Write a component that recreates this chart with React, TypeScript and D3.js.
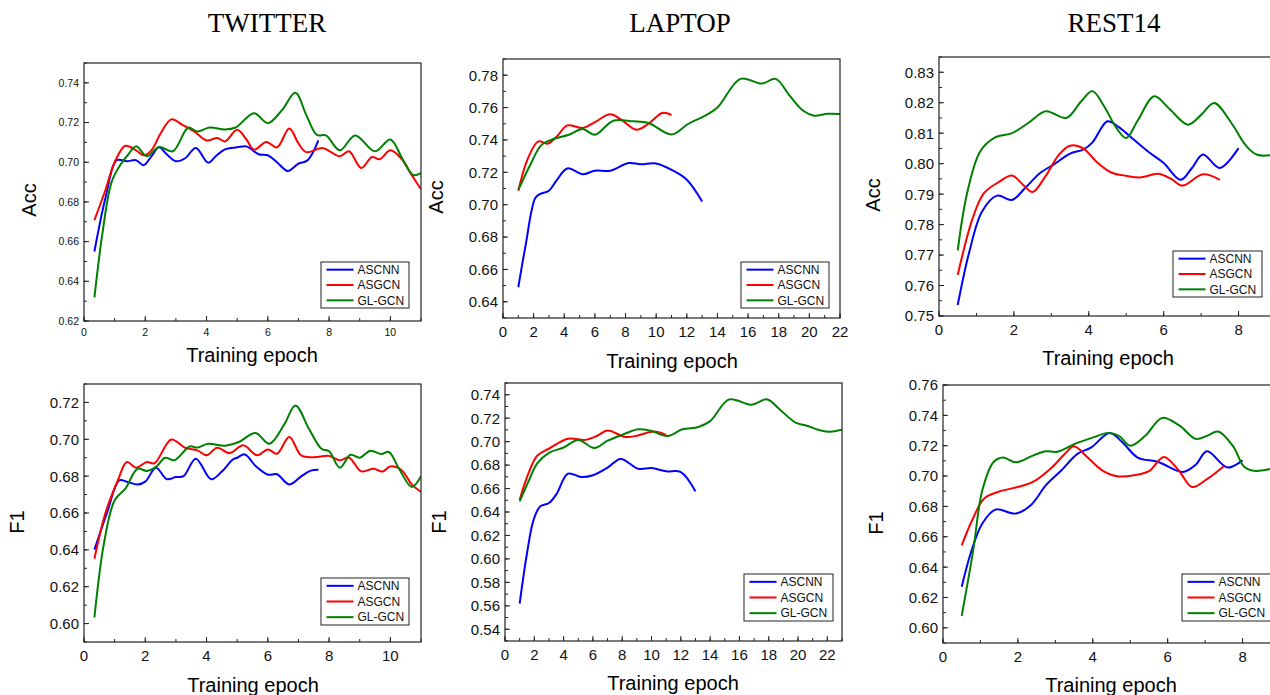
import React from "react";
import * as d3 from "d3";

type Pt = [number, number];

const seriesNames = ["ASCNN", "ASGCN", "GL-GCN"];
const seriesColors = ["#0000ff", "#ff0000", "#008000"];
const datasetTitles = ["TWITTER", "LAPTOP", "REST14"];

// TWITTER - Acc
const twitterAccAscnn: Pt[] = [[0.34,0.655],[0.7,0.682],[1.07,0.701],[1.4,0.7005],[1.7,0.701],[1.95,0.6985],[2.2,0.703],[2.45,0.7075],[2.7,0.704],[3.0,0.7005],[3.3,0.702],[3.65,0.7072],[4.05,0.6998],[4.3,0.703],[4.6,0.7065],[5.0,0.7075],[5.3,0.708],[5.7,0.704],[6.0,0.7035],[6.3,0.7],[6.65,0.6956],[7.0,0.6993],[7.3,0.701],[7.65,0.711]];
const twitterAccAsgcn: Pt[] = [[0.34,0.6708],[0.7,0.686],[1.0,0.7],[1.35,0.7083],[1.7,0.706],[1.95,0.7035],[2.2,0.706],[2.5,0.7145],[2.85,0.7216],[3.2,0.719],[3.6,0.7155],[4.0,0.711],[4.35,0.7122],[4.6,0.7105],[5.0,0.7164],[5.3,0.7115],[5.55,0.7063],[5.95,0.7102],[6.3,0.7075],[6.7,0.717],[7.0,0.7095],[7.25,0.7051],[7.8,0.7071],[8.35,0.703],[8.65,0.7055],[9.05,0.6971],[9.4,0.7026],[9.65,0.7015],[10.0,0.706],[10.35,0.702],[10.7,0.6935],[11.0,0.6864]];
const twitterAccGlgcn: Pt[] = [[0.34,0.6319],[0.6,0.664],[0.9,0.69],[1.2,0.699],[1.45,0.704],[1.7,0.7081],[2.05,0.703],[2.45,0.7077],[2.9,0.7055],[3.4,0.7174],[3.7,0.7155],[4.1,0.7175],[4.6,0.7165],[4.95,0.7175],[5.55,0.7247],[6.0,0.7197],[6.45,0.726],[6.9,0.735],[7.25,0.724],[7.6,0.7138],[7.9,0.7135],[8.35,0.706],[8.85,0.7135],[9.5,0.7055],[10.0,0.7115],[10.4,0.7015],[10.75,0.6935],[11.0,0.6945]];

// LAPTOP - Acc
const laptopAccAscnn: Pt[] = [[1,0.649],[1.46,0.674],[2.1,0.704],[2.4,0.7065],[3.0,0.7086],[3.5,0.715],[4.2,0.7224],[5.2,0.7188],[6.0,0.721],[7.0,0.721],[8.2,0.7257],[9.0,0.725],[10.0,0.7255],[11.1,0.721],[12.0,0.7154],[13.0,0.702]];
const laptopAccAsgcn: Pt[] = [[1,0.7086],[1.6,0.728],[2.3,0.7391],[2.9,0.7377],[3.5,0.742],[4.2,0.749],[5.2,0.7474],[6.0,0.751],[7.0,0.7558],[7.8,0.752],[8.7,0.7463],[9.5,0.75],[10.4,0.7567],[11.0,0.7554]];
const laptopAccGlgcn: Pt[] = [[1,0.7092],[1.8,0.725],[2.5,0.7368],[3.3,0.7406],[4.3,0.7432],[5.2,0.7467],[6.0,0.7432],[7.2,0.7519],[8.5,0.7515],[9.5,0.7505],[11.0,0.7434],[12.1,0.75],[13.2,0.755],[14.0,0.76],[15.5,0.7777],[16.9,0.7748],[17.8,0.7777],[18.7,0.7675],[19.6,0.758],[20.3,0.755],[21.2,0.7562],[22,0.756]];

// REST14 - Acc
const restAccAscnn: Pt[] = [[0.5,0.7536],[0.8,0.7706],[1.15,0.7843],[1.55,0.7895],[1.95,0.7881],[2.3,0.792],[2.7,0.7969],[3.1,0.8],[3.5,0.8033],[3.85,0.8046],[4.1,0.807],[4.5,0.8139],[4.8,0.812],[5.2,0.8079],[5.6,0.8038],[6.0,0.8002],[6.45,0.7947],[6.75,0.7985],[7.05,0.803],[7.5,0.7986],[8.0,0.8051]];
const restAccAsgcn: Pt[] = [[0.5,0.7635],[0.9,0.7821],[1.2,0.7903],[1.6,0.794],[1.95,0.7961],[2.25,0.793],[2.5,0.7907],[2.85,0.796],[3.2,0.8029],[3.5,0.8059],[3.85,0.805],[4.2,0.8007],[4.6,0.7971],[5.0,0.796],[5.4,0.7955],[5.85,0.7967],[6.2,0.795],[6.5,0.7928],[7.05,0.7965],[7.5,0.7947]];
const restAccGlgcn: Pt[] = [[0.5,0.7715],[0.75,0.7903],[1.1,0.804],[1.5,0.8086],[1.95,0.81],[2.4,0.8135],[2.85,0.8172],[3.4,0.815],[3.8,0.8205],[4.1,0.8238],[4.4,0.819],[4.75,0.8115],[5.0,0.8084],[5.3,0.814],[5.75,0.8221],[6.15,0.818],[6.65,0.8128],[7.0,0.816],[7.35,0.8199],[7.8,0.8135],[8.2,0.8059],[8.5,0.8029],[9.0,0.803]];

// TWITTER - F1
const twitterF1Ascnn: Pt[] = [[0.34,0.6401],[0.75,0.66],[1.15,0.6777],[1.4,0.677],[1.75,0.6755],[2.0,0.677],[2.35,0.6846],[2.7,0.6784],[3.0,0.6795],[3.25,0.68],[3.65,0.6895],[4.15,0.6783],[4.5,0.6825],[4.85,0.6889],[5.0,0.69],[5.25,0.6918],[5.6,0.6855],[6.0,0.6808],[6.3,0.681],[6.7,0.6755],[7.1,0.68],[7.4,0.683],[7.65,0.6835]];
const twitterF1Asgcn: Pt[] = [[0.34,0.6352],[0.7,0.66],[1.1,0.6775],[1.4,0.6877],[1.7,0.6846],[2.05,0.6877],[2.3,0.687],[2.85,0.6999],[3.3,0.6954],[3.7,0.694],[4.0,0.6913],[4.35,0.6954],[4.75,0.6925],[5.2,0.6967],[5.65,0.6913],[6.0,0.6945],[6.3,0.6922],[6.7,0.7012],[7.1,0.6911],[7.6,0.6904],[8.0,0.691],[8.35,0.6886],[8.65,0.69],[9.05,0.6826],[9.45,0.684],[9.75,0.6825],[10.0,0.6853],[10.35,0.6835],[10.7,0.6755],[11.0,0.6714]];
const twitterF1Glgcn: Pt[] = [[0.34,0.6033],[0.65,0.6434],[1.0,0.6669],[1.35,0.6732],[1.75,0.684],[2.05,0.6828],[2.35,0.685],[2.65,0.69],[2.95,0.6886],[3.45,0.6961],[3.7,0.6955],[4.05,0.6976],[4.6,0.6965],[5.05,0.6985],[5.6,0.7034],[6.05,0.6976],[6.55,0.7085],[6.9,0.7184],[7.35,0.7055],[7.75,0.6949],[8.0,0.6935],[8.35,0.6846],[8.7,0.6916],[9.0,0.69],[9.35,0.6938],[9.7,0.692],[9.95,0.6931],[10.3,0.6835],[10.7,0.6741],[11.0,0.6799]];

// LAPTOP - F1
const laptopF1Ascnn: Pt[] = [[1,0.5619],[1.48,0.6031],[1.94,0.6329],[2.4,0.6448],[3.0,0.6477],[3.5,0.655],[4.3,0.6727],[5.2,0.6698],[6.0,0.6713],[7.0,0.6778],[7.9,0.6852],[9.1,0.6769],[10.0,0.6775],[11.0,0.6747],[12.0,0.6741],[13.0,0.6576]];
const laptopF1Asgcn: Pt[] = [[1,0.6505],[1.6,0.673],[2.2,0.688],[3.0,0.694],[4.3,0.7025],[5.5,0.7015],[6.3,0.705],[7.0,0.7095],[8.2,0.704],[9.0,0.705],[10.0,0.7085],[10.5,0.708],[11.0,0.7055]];
const laptopF1Glgcn: Pt[] = [[1,0.649],[1.6,0.666],[2.2,0.6815],[3.0,0.6905],[4.0,0.695],[5.0,0.7015],[6.1,0.6945],[7.0,0.7008],[8.0,0.7058],[9.1,0.7105],[10.0,0.709],[11.1,0.7048],[12.1,0.7105],[13.2,0.7125],[14.0,0.7175],[15.3,0.736],[16.8,0.7315],[17.9,0.736],[18.7,0.728],[19.8,0.7165],[20.6,0.7135],[21.7,0.709],[22.2,0.7085],[23.0,0.7102]];

// REST14 - F1
const restF1Ascnn: Pt[] = [[0.5,0.627],[0.75,0.65],[1.05,0.6687],[1.4,0.6779],[1.95,0.6753],[2.35,0.681],[2.75,0.694],[3.15,0.7035],[3.6,0.7148],[3.95,0.7187],[4.45,0.7284],[4.8,0.722],[5.2,0.7122],[5.75,0.7093],[6.4,0.7027],[6.75,0.7075],[7.05,0.7163],[7.6,0.7056],[8.0,0.7104]];
const restF1Asgcn: Pt[] = [[0.5,0.6544],[0.8,0.672],[1.1,0.6852],[1.5,0.6898],[2.0,0.6928],[2.4,0.6961],[2.9,0.7055],[3.25,0.7145],[3.5,0.7196],[3.85,0.7125],[4.25,0.7038],[4.65,0.6999],[5.1,0.7005],[5.5,0.7032],[5.9,0.7126],[6.3,0.7035],[6.65,0.6928],[7.05,0.698],[7.5,0.7065]];
const restF1Glgcn: Pt[] = [[0.5,0.6079],[0.8,0.65],[1.05,0.6906],[1.35,0.7093],[1.6,0.7122],[1.95,0.7091],[2.4,0.7135],[2.75,0.7163],[3.05,0.716],[3.55,0.7215],[4.05,0.7258],[4.4,0.7284],[4.7,0.7265],[5.0,0.72],[5.4,0.7265],[5.85,0.7383],[6.3,0.7335],[6.75,0.7245],[7.05,0.7265],[7.35,0.7293],[7.75,0.7195],[8.05,0.706],[8.35,0.7034],[8.8,0.705],[9.0,0.706]];

type Panel = {
  id: string;
  box: [number, number, number, number]; // left, top, right, bottom
  xDomain: [number, number];
  yDomain: [number, number];
  xMajor: number;
  yMajor: number;
  yMinor: number;
  yLabelTop: number;
  tickFont: number;
  yTitle: string;
  yTitlePos: [number, number];
  xTitlePos: [number, number];
  legend: [number, number, number, number];
  series: Pt[][];
};

const panels: Panel[] = [
  { id: "p1", box: [84, 63, 421, 321], xDomain: [0, 11], yDomain: [0.62, 0.75], xMajor: 2, yMajor: 0.02, yMinor: 0.01, yLabelTop: 0.74, tickFont: 10.5,
    yTitle: "Acc", yTitlePos: [29, 200], xTitlePos: [252, 355], legend: [321, 262, 409, 308], series: [twitterAccAscnn, twitterAccAsgcn, twitterAccGlgcn] },
  { id: "p2", box: [503, 59, 840, 318], xDomain: [0, 22], yDomain: [0.63, 0.79], xMajor: 2, yMajor: 0.02, yMinor: 0.01, yLabelTop: 0.78, tickFont: 15,
    yTitle: "Acc", yTitlePos: [436, 197], xTitlePos: [672, 361], legend: [741, 262, 829, 308], series: [laptopAccAscnn, laptopAccAsgcn, laptopAccGlgcn] },
  { id: "p3", box: [939, 57, 1276, 316], xDomain: [0, 9], yDomain: [0.75, 0.835], xMajor: 2, yMajor: 0.01, yMinor: 0.005, yLabelTop: 0.83, tickFont: 15,
    yTitle: "Acc", yTitlePos: [873, 195], xTitlePos: [1108, 358], legend: [1173, 251, 1262, 297], series: [restAccAscnn, restAccAsgcn, restAccGlgcn] },
  { id: "p4", box: [84, 384, 421, 642], xDomain: [0, 11], yDomain: [0.59, 0.73], xMajor: 2, yMajor: 0.02, yMinor: 0.01, yLabelTop: 0.72, tickFont: 15,
    yTitle: "F1", yTitlePos: [17, 522], xTitlePos: [253, 685], legend: [321, 578, 409, 625], series: [twitterF1Ascnn, twitterF1Asgcn, twitterF1Glgcn] },
  { id: "p5", box: [505, 383, 842, 641], xDomain: [0, 23], yDomain: [0.53, 0.75], xMajor: 2, yMajor: 0.02, yMinor: 0.01, yLabelTop: 0.74, tickFont: 15,
    yTitle: "F1", yTitlePos: [439, 522], xTitlePos: [673, 683], legend: [744, 574, 833, 621], series: [laptopF1Ascnn, laptopF1Asgcn, laptopF1Glgcn] },
  { id: "p6", box: [943, 385, 1280, 643], xDomain: [0, 9], yDomain: [0.59, 0.76], xMajor: 2, yMajor: 0.02, yMinor: 0.01, yLabelTop: 0.76, tickFont: 15,
    yTitle: "F1", yTitlePos: [876, 523], xTitlePos: [1111, 685], legend: [1182, 574, 1290, 621], series: [restF1Ascnn, restF1Asgcn, restF1Glgcn] },
];

const titleX = [267, 680, 1114];
const font = "Arial, 'Liberation Sans', sans-serif";

function steps(lo: number, hi: number, step: number) {
  const out: number[] = [];
  const n = Math.floor((hi - lo) / step + 1e-6);
  for (let i = 0; i <= n; i++) out.push(+(lo + i * step).toFixed(4));
  return out;
}

function ChartPanel({ p }: { p: Panel }) {
  const [l, t, r, b] = p.box;
  const x = d3.scaleLinear().domain(p.xDomain).range([l, r]);
  const y = d3.scaleLinear().domain(p.yDomain).range([b, t]);
  const line = d3
    .line<Pt>()
    .x((d) => x(d[0]))
    .y((d) => y(d[1]))
    .curve(d3.curveCatmullRom.alpha(0.5));
  const yFirst = Math.ceil(p.yDomain[0] / p.yMajor - 1e-6) * p.yMajor;
  const yMajors = steps(yFirst, p.yLabelTop, p.yMajor);
  const yMinors = steps(Math.ceil(p.yDomain[0] / p.yMinor - 1e-6) * p.yMinor, p.yDomain[1], p.yMinor);
  const xMajors = steps(p.xDomain[0], p.xDomain[1], p.xMajor);
  const xMinors = steps(p.xDomain[0], p.xDomain[1], 1);
  const fmt = d3.format(".2f");
  const small = p.tickFont < 12;
  const [lx0, ly0, lx1, ly1] = p.legend;
  const rowH = (ly1 - ly0) / 3;
  return (
    <g>
      <defs>
        <clipPath id={`clip-${p.id}`}>
          <rect x={l} y={t} width={r - l} height={b - t} />
        </clipPath>
      </defs>
      <g clipPath={`url(#clip-${p.id})`} fill="none" strokeWidth={2}>
        {p.series.map((s, i) => (
          <path key={i} d={line(s) || ""} stroke={seriesColors[i]} />
        ))}
      </g>
      <rect x={l} y={t} width={r - l} height={b - t} fill="none" stroke="#222" strokeWidth={1.2} />
      {yMinors.map((v) => (
        <line key={"ym" + v} x1={l} x2={l + 3} y1={y(v)} y2={y(v)} stroke="#222" />
      ))}
      {yMajors.map((v) => (
        <g key={"y" + v}>
          <line x1={l} x2={l + 5} y1={y(v)} y2={y(v)} stroke="#222" />
          <text x={l - 5} y={y(v)} dy="0.36em" textAnchor="end" fontSize={p.tickFont} fontFamily={font} fill="#111">
            {fmt(v)}
          </text>
        </g>
      ))}
      {xMinors.map((v) => (
        <line key={"xm" + v} x1={x(v)} x2={x(v)} y1={b} y2={b - 3} stroke="#222" />
      ))}
      {xMajors.map((v) => (
        <g key={"x" + v}>
          <line x1={x(v)} x2={x(v)} y1={b} y2={b - 5} stroke="#222" />
          <text x={x(v)} y={b + (small ? 14.5 : 18.5)} textAnchor="middle" fontSize={p.tickFont} fontFamily={font} fill="#111">
            {v}
          </text>
        </g>
      ))}
      <text x={p.xTitlePos[0]} y={p.xTitlePos[1]} dy="0.35em" textAnchor="middle" fontSize={20} fontFamily={font} fill="#000">
        Training epoch
      </text>
      <text
        transform={`translate(${p.yTitlePos[0]},${p.yTitlePos[1]}) rotate(-90)`}
        dy="0.35em"
        textAnchor="middle"
        fontSize={20}
        fontFamily={font}
        fill="#000"
      >
        {p.yTitle}
      </text>
      <rect x={lx0} y={ly0} width={lx1 - lx0} height={ly1 - ly0} fill="#fff" stroke="#222" strokeWidth={1} />
      {seriesNames.map((name, i) => {
        const cy = ly0 + rowH * (i + 0.5);
        return (
          <g key={name}>
            <line x1={lx0 + 5.5} x2={lx0 + 32.5} y1={cy} y2={cy} stroke={seriesColors[i]} strokeWidth={2} />
            <text x={lx0 + 36.5} y={cy} dy="0.36em" fontSize={12} fontFamily={font} fill="#111">
              {name}
            </text>
          </g>
        );
      })}
    </g>
  );
}

export default function App() {
  return (
    <svg width={1270} height={695} style={{ position: "absolute", left: 0, top: 0, background: "#fff" }}>
      <rect x={0} y={0} width={1270} height={695} fill="#fff" />
      {datasetTitles.map((name, i) => (
        <text key={name} x={titleX[i]} y={32} textAnchor="middle" fontSize={27} fontFamily="'Liberation Serif', 'Times New Roman', serif" fill="#000">
          {name}
        </text>
      ))}
      {panels.map((p) => (
        <ChartPanel key={p.id} p={p} />
      ))}
    </svg>
  );
}
